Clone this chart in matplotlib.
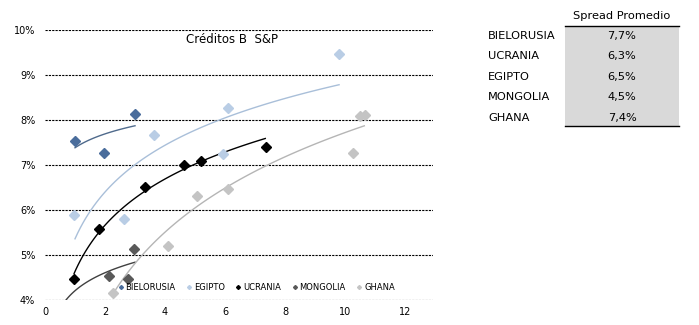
import numpy as np
import matplotlib
matplotlib.use("Agg")
import matplotlib.pyplot as plt
import matplotlib.ticker as ticker
from matplotlib.patches import Rectangle
from matplotlib.lines import Line2D

plt.rcParams['font.family'] = ['DejaVu Sans']

# scatter data (years, spread %)
bielorusia_x = [1.0, 1.98, 2.99]
bielorusia_y = [7.54, 7.27, 8.13]
egipto_x = [0.97, 2.63, 3.62, 5.93, 6.1, 9.79]
egipto_y = [5.90, 5.80, 7.67, 7.25, 8.27, 9.47]
ucrania_x = [0.97, 1.79, 3.32, 4.63, 5.2, 7.37]
ucrania_y = [4.47, 5.58, 6.51, 7.01, 7.10, 7.41]
mongolia_x = [2.12, 2.77, 2.97]
mongolia_y = [4.54, 4.47, 5.13]
ghana_x = [2.26, 4.1, 5.06, 6.1, 10.27, 10.5, 10.67]
ghana_y = [4.16, 5.20, 6.32, 6.47, 7.27, 8.10, 8.11]

# log trend lines: y = a + b*ln(x), over [xmin, xmax]
trend_a = {'BIELORUSIA': 7.383, 'EGIPTO': 5.36, 'UCRANIA': 4.635, 'MONGOLIA': 4.206, 'GHANA': 2.16}
trend_b = {'BIELORUSIA': 0.445, 'EGIPTO': 1.50, 'UCRANIA': 1.482, 'MONGOLIA': 0.577, 'GHANA': 2.415}
trend_rng = {'BIELORUSIA': (1.0, 3.0), 'EGIPTO': (1.0, 9.8), 'UCRANIA': (0.97, 7.34),
             'MONGOLIA': (0.7, 3.0), 'GHANA': (2.26, 10.64)}

# table
paises = ['BIELORUSIA', 'UCRANIA', 'EGIPTO', 'MONGOLIA', 'GHANA']
spread = ['7,7%', '6,3%', '6,5%', '4,5%', '7,4%']

series = [
    ('BIELORUSIA', bielorusia_x, bielorusia_y, '#4a6d9c', '#4f6a8c'),
    ('EGIPTO', egipto_x, egipto_y, '#b9cde5', '#a9bfd9'),
    ('UCRANIA', ucrania_x, ucrania_y, '#000000', '#000000'),
    ('MONGOLIA', mongolia_x, mongolia_y, '#595959', '#404040'),
    ('GHANA', ghana_x, ghana_y, '#c4c4c4', '#b5b5b5'),
]

fig = plt.figure(figsize=(6.99, 3.25), dpi=100)
ax = fig.add_axes([45/699, 1-300/325, 388/699, 270/325])

for name, xs, ys, mc, lc in series:
    ax.plot(xs, ys, linestyle='none', marker='D', markersize=5, color=mc, zorder=3)
    x0, x1 = trend_rng[name]
    tx = np.linspace(x0, x1, 100)
    ax.plot(tx, trend_a[name] + trend_b[name]*np.log(tx), color=lc, lw=1.0, zorder=2)

ax.set_xlim(0, 12.93)
ax.set_ylim(4, 10)
ax.set_xticks([0, 2, 4, 6, 8, 10, 12])
ax.set_yticks([4, 5, 6, 7, 8, 9, 10])
ax.yaxis.set_major_formatter(ticker.FuncFormatter(lambda v, p: '%d%%' % v))
ax.tick_params(length=0, labelsize=7)
ax.tick_params(axis='y', pad=7)
ax.tick_params(axis='x', pad=5)
for s in ax.spines.values():
    s.set_visible(False)
ax.grid(axis='y', color='black', linestyle=(0, (2, 1)), lw=0.8)
ax.set_axisbelow(True)

ax.text(0.482, 0.965, 'Créditos B  S&P', transform=ax.transAxes, ha='center', va='center', fontsize=8.5)

handles = [Line2D([], [], linestyle='none', marker='D', markersize=2, color=s[3]) for s in series]
ax.legend(handles, [s[0] for s in series], loc='center', bbox_to_anchor=(0.545, 0.048), ncol=5,
          frameon=False, fontsize=6, handlelength=0.6, handletextpad=0.3, columnspacing=1.3,
          borderpad=0)

# table on the right
fig.patches.append(Rectangle((565/699, 1-126/325), 114/699, 100/325, transform=fig.transFigure,
                             facecolor='#d9d9d9', edgecolor='none'))
fig.add_artist(Line2D([565/699, 679/699], [1-26/325, 1-26/325], color='black', lw=1))
fig.add_artist(Line2D([565/699, 679/699], [1-126/325, 1-126/325], color='black', lw=1))
fig.text(622/699, 1-16/325, 'Spread Promedio', ha='center', va='center', fontsize=8.2)
for i, (p, v) in enumerate(zip(paises, spread)):
    yy = 1 - (36 + i*20.4)/325
    fig.text(488/699, yy, p, ha='left', va='center', fontsize=8.2)
    fig.text(622/699, yy, v, ha='center', va='center', fontsize=8.2)

fig.savefig('out.png', dpi=100)
